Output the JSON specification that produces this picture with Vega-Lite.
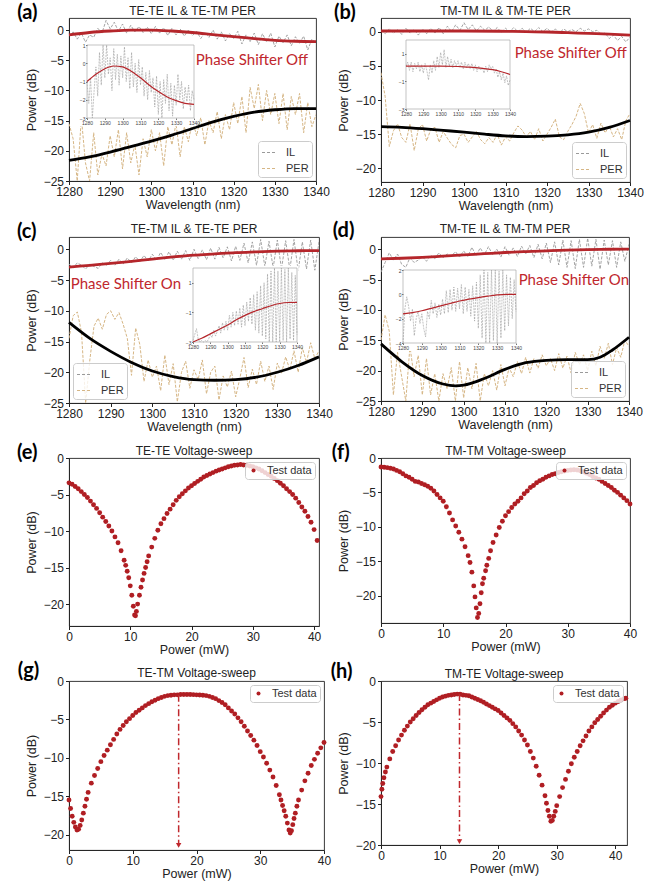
{
"$schema": "https://vega.github.io/schema/vega-lite/v6.json",
"background": "white",
"padding": {"left": 16, "top": 2, "right": 5, "bottom": 5},
"datasets": {
"aIL": [{"x":1280,"y":-1.0},{"x":1281,"y":-0.3},{"x":1282,"y":-1.5},{"x":1283,"y":-0.5},{"x":1284,"y":-2.0},{"x":1285,"y":-0.8},{"x":1286,"y":-1.2},{"x":1287,"y":0.3},{"x":1288,"y":-0.5},{"x":1289,"y":1.6},{"x":1290,"y":0.2},{"x":1291,"y":1.3},{"x":1292,"y":-0.2},{"x":1293,"y":1.0},{"x":1294,"y":-0.5},{"x":1295,"y":0.8},{"x":1296,"y":-0.3},{"x":1297,"y":0.6},{"x":1298,"y":-0.4},{"x":1299,"y":0.5},{"x":1300,"y":-0.6},{"x":1301,"y":0.6},{"x":1302,"y":-0.5},{"x":1303,"y":0.4},{"x":1304,"y":-0.9},{"x":1305,"y":0.3},{"x":1306,"y":-0.8},{"x":1307,"y":0.2},{"x":1308,"y":-1.0},{"x":1309,"y":0.0},{"x":1310,"y":-0.9},{"x":1311,"y":-0.2},{"x":1312,"y":-1.4},{"x":1313,"y":-0.4},{"x":1314,"y":-1.2},{"x":1315,"y":0.0},{"x":1316,"y":-1.5},{"x":1317,"y":-0.3},{"x":1318,"y":-1.8},{"x":1319,"y":-0.6},{"x":1320,"y":-1.4},{"x":1321,"y":-0.2},{"x":1322,"y":-2.3},{"x":1323,"y":-0.8},{"x":1324,"y":-1.9},{"x":1325,"y":-0.5},{"x":1326,"y":-2.4},{"x":1327,"y":-0.6},{"x":1328,"y":-2.0},{"x":1329,"y":-0.5},{"x":1330,"y":-2.8},{"x":1331,"y":-1.0},{"x":1332,"y":-2.1},{"x":1333,"y":-0.8},{"x":1334,"y":-2.6},{"x":1335,"y":-1.1},{"x":1336,"y":-2.2},{"x":1337,"y":-1.0},{"x":1338,"y":-3.3},{"x":1339,"y":-1.5},{"x":1340,"y":-2.2}],
"aPER": [{"x":1280,"y":-15.5},{"x":1281,"y":-18},{"x":1282,"y":-25},{"x":1283,"y":-14.5},{"x":1284,"y":-22},{"x":1285,"y":-25},{"x":1286,"y":-17},{"x":1287,"y":-24},{"x":1288,"y":-20.5},{"x":1289,"y":-22.5},{"x":1290,"y":-17.5},{"x":1291,"y":-21},{"x":1292,"y":-16.5},{"x":1293,"y":-23},{"x":1294,"y":-17},{"x":1295,"y":-22},{"x":1296,"y":-19},{"x":1297,"y":-24},{"x":1298,"y":-18},{"x":1299,"y":-21},{"x":1300,"y":-16.5},{"x":1301,"y":-20},{"x":1302,"y":-17},{"x":1303,"y":-22.5},{"x":1304,"y":-16},{"x":1305,"y":-19},{"x":1306,"y":-15.5},{"x":1307,"y":-21},{"x":1308,"y":-16},{"x":1309,"y":-18.5},{"x":1310,"y":-15},{"x":1311,"y":-17.5},{"x":1312,"y":-14.5},{"x":1313,"y":-19},{"x":1314,"y":-15},{"x":1315,"y":-17},{"x":1316,"y":-13.5},{"x":1317,"y":-18},{"x":1318,"y":-14},{"x":1319,"y":-16.5},{"x":1320,"y":-12},{"x":1321,"y":-15.5},{"x":1322,"y":-11},{"x":1323,"y":-17},{"x":1324,"y":-9.5},{"x":1325,"y":-13},{"x":1326,"y":-9},{"x":1327,"y":-15},{"x":1328,"y":-10},{"x":1329,"y":-14},{"x":1330,"y":-10.5},{"x":1331,"y":-15.5},{"x":1332,"y":-10.5},{"x":1333,"y":-16.5},{"x":1334,"y":-11},{"x":1335,"y":-14},{"x":1336,"y":-10.5},{"x":1337,"y":-17},{"x":1338,"y":-12},{"x":1339,"y":-16},{"x":1340,"y":-14}],
"aFR": [{"x":1280,"y":-0.8},{"x":1285,"y":-0.4},{"x":1290,"y":-0.15},{"x":1295,"y":0.0},{"x":1300,"y":0.0},{"x":1305,"y":-0.15},{"x":1310,"y":-0.4},{"x":1315,"y":-0.75},{"x":1320,"y":-1.1},{"x":1325,"y":-1.4},{"x":1330,"y":-1.7},{"x":1335,"y":-1.85},{"x":1340,"y":-1.9}],
"aFK": [{"x":1280,"y":-21.6},{"x":1285,"y":-21.0},{"x":1290,"y":-20.2},{"x":1295,"y":-19.3},{"x":1300,"y":-18.4},{"x":1305,"y":-17.4},{"x":1310,"y":-16.3},{"x":1315,"y":-15.2},{"x":1320,"y":-14.3},{"x":1325,"y":-13.6},{"x":1330,"y":-13.2},{"x":1335,"y":-13.0},{"x":1340,"y":-13.0}],
"aiIL": [{"x":1280,"y":-1.0},{"x":1281,"y":-2.2},{"x":1282,"y":-0.8},{"x":1283,"y":-3.0},{"x":1284,"y":-1.5},{"x":1285,"y":-0.2},{"x":1286,"y":-1.8},{"x":1287,"y":0.6},{"x":1288,"y":-1.2},{"x":1289,"y":1.0},{"x":1290,"y":-0.8},{"x":1291,"y":1.0},{"x":1292,"y":-0.6},{"x":1293,"y":0.3},{"x":1294,"y":-1.5},{"x":1295,"y":0.8},{"x":1296,"y":-0.9},{"x":1297,"y":0.5},{"x":1298,"y":-1.2},{"x":1299,"y":0.4},{"x":1300,"y":-0.8},{"x":1301,"y":0.9},{"x":1302,"y":-1.0},{"x":1303,"y":0.3},{"x":1304,"y":-1.4},{"x":1305,"y":0.6},{"x":1306,"y":-1.3},{"x":1307,"y":0.0},{"x":1308,"y":-1.6},{"x":1309,"y":0.2},{"x":1310,"y":-1.2},{"x":1311,"y":-0.2},{"x":1312,"y":-1.8},{"x":1313,"y":-0.5},{"x":1314,"y":-2.0},{"x":1315,"y":-0.4},{"x":1316,"y":-1.6},{"x":1317,"y":-0.8},{"x":1318,"y":-2.4},{"x":1319,"y":-0.7},{"x":1320,"y":-2.8},{"x":1321,"y":-1.0},{"x":1322,"y":-3.0},{"x":1323,"y":-0.9},{"x":1324,"y":-2.2},{"x":1325,"y":-0.6},{"x":1326,"y":-2.6},{"x":1327,"y":-1.1},{"x":1328,"y":-2.9},{"x":1329,"y":-1.2},{"x":1330,"y":-2.3},{"x":1331,"y":-0.6},{"x":1332,"y":-2.0},{"x":1333,"y":-1.0},{"x":1334,"y":-2.5},{"x":1335,"y":-1.3},{"x":1336,"y":-2.1},{"x":1337,"y":-1.2},{"x":1338,"y":-2.6},{"x":1339,"y":-1.5},{"x":1340,"y":-2.0}],
"aiR": [{"x":1280,"y":-1.0},{"x":1285,"y":-0.6},{"x":1290,"y":-0.3},{"x":1295,"y":-0.15},{"x":1300,"y":-0.2},{"x":1305,"y":-0.45},{"x":1310,"y":-0.8},{"x":1315,"y":-1.2},{"x":1320,"y":-1.55},{"x":1325,"y":-1.85},{"x":1330,"y":-2.05},{"x":1335,"y":-2.2},{"x":1340,"y":-2.25}],
"bIL": [{"x":1280,"y":0.2},{"x":1281,"y":-0.3},{"x":1282,"y":0.4},{"x":1283,"y":-0.2},{"x":1284,"y":0.3},{"x":1285,"y":-0.4},{"x":1286,"y":0.5},{"x":1287,"y":-0.2},{"x":1288,"y":0.3},{"x":1289,"y":-0.5},{"x":1290,"y":0.4},{"x":1291,"y":-0.3},{"x":1292,"y":0.5},{"x":1293,"y":-0.2},{"x":1294,"y":0.6},{"x":1295,"y":-0.3},{"x":1296,"y":0.8},{"x":1297,"y":0.0},{"x":1298,"y":1.0},{"x":1299,"y":0.2},{"x":1300,"y":1.3},{"x":1301,"y":0.3},{"x":1302,"y":1.0},{"x":1303,"y":0.1},{"x":1304,"y":0.8},{"x":1305,"y":0.2},{"x":1306,"y":0.7},{"x":1307,"y":0.0},{"x":1308,"y":0.6},{"x":1309,"y":-0.1},{"x":1310,"y":0.5},{"x":1311,"y":0.0},{"x":1312,"y":0.6},{"x":1313,"y":0.0},{"x":1314,"y":0.5},{"x":1315,"y":-0.1},{"x":1316,"y":0.5},{"x":1317,"y":0.0},{"x":1318,"y":0.6},{"x":1319,"y":0.0},{"x":1320,"y":0.5},{"x":1321,"y":-0.1},{"x":1322,"y":0.4},{"x":1323,"y":-0.2},{"x":1324,"y":0.4},{"x":1325,"y":0.0},{"x":1326,"y":0.3},{"x":1327,"y":0.0},{"x":1328,"y":0.5},{"x":1329,"y":0.1},{"x":1330,"y":0.4},{"x":1331,"y":0.0},{"x":1332,"y":0.2},{"x":1333,"y":-0.4},{"x":1334,"y":-0.2},{"x":1335,"y":-1.0},{"x":1336,"y":-0.5},{"x":1337,"y":-1.3},{"x":1338,"y":-0.7},{"x":1339,"y":-1.5},{"x":1340,"y":-0.8}],
"bPER": [{"x":1280,"y":-6.0},{"x":1281,"y":-9.5},{"x":1282,"y":-16.8},{"x":1283,"y":-14.5},{"x":1284,"y":-13.5},{"x":1285,"y":-15.5},{"x":1286,"y":-16.2},{"x":1287,"y":-13.5},{"x":1288,"y":-17.4},{"x":1289,"y":-14.2},{"x":1290,"y":-13.6},{"x":1291,"y":-16.0},{"x":1292,"y":-14.3},{"x":1293,"y":-14.0},{"x":1294,"y":-16.2},{"x":1295,"y":-14.6},{"x":1296,"y":-15.6},{"x":1297,"y":-16.5},{"x":1298,"y":-17.0},{"x":1299,"y":-15.2},{"x":1300,"y":-15.0},{"x":1301,"y":-16.2},{"x":1302,"y":-15.4},{"x":1303,"y":-14.6},{"x":1304,"y":-15.8},{"x":1305,"y":-16.4},{"x":1306,"y":-15.5},{"x":1307,"y":-16.2},{"x":1308,"y":-15.0},{"x":1309,"y":-16.6},{"x":1310,"y":-15.4},{"x":1311,"y":-16.0},{"x":1312,"y":-14.8},{"x":1313,"y":-13.8},{"x":1314,"y":-14.4},{"x":1315,"y":-15.4},{"x":1316,"y":-14.6},{"x":1317,"y":-15.8},{"x":1318,"y":-14.2},{"x":1319,"y":-16.0},{"x":1320,"y":-15.0},{"x":1321,"y":-14.0},{"x":1322,"y":-12.8},{"x":1323,"y":-15.4},{"x":1324,"y":-15.8},{"x":1325,"y":-14.6},{"x":1326,"y":-13.6},{"x":1327,"y":-12.4},{"x":1328,"y":-10.5},{"x":1329,"y":-12.0},{"x":1330,"y":-14.8},{"x":1331,"y":-13.6},{"x":1332,"y":-15.6},{"x":1333,"y":-13.4},{"x":1334,"y":-14.8},{"x":1335,"y":-13.8},{"x":1336,"y":-15.4},{"x":1337,"y":-14.2},{"x":1338,"y":-15.8},{"x":1339,"y":-13.0},{"x":1340,"y":-12.0}],
"bFR": [{"x":1280,"y":0.1},{"x":1290,"y":0.1},{"x":1300,"y":0.1},{"x":1310,"y":0.05},{"x":1315,"y":0.0},{"x":1320,"y":-0.05},{"x":1325,"y":-0.15},{"x":1330,"y":-0.25},{"x":1335,"y":-0.35},{"x":1340,"y":-0.5}],
"bFK": [{"x":1280,"y":-13.9},{"x":1285,"y":-14.0},{"x":1290,"y":-14.2},{"x":1295,"y":-14.45},{"x":1300,"y":-14.7},{"x":1305,"y":-15.0},{"x":1310,"y":-15.25},{"x":1315,"y":-15.35},{"x":1320,"y":-15.3},{"x":1325,"y":-15.1},{"x":1330,"y":-14.7},{"x":1335,"y":-14.0},{"x":1340,"y":-13.0}],
"biIL": [{"x":1280,"y":0.1},{"x":1281,"y":0.4},{"x":1282,"y":-0.2},{"x":1283,"y":0.4},{"x":1284,"y":-0.3},{"x":1285,"y":0.3},{"x":1286,"y":-0.1},{"x":1287,"y":0.4},{"x":1288,"y":-0.3},{"x":1289,"y":0.2},{"x":1290,"y":-0.4},{"x":1291,"y":0.3},{"x":1292,"y":-0.2},{"x":1293,"y":-0.9},{"x":1294,"y":0.2},{"x":1295,"y":-0.4},{"x":1296,"y":0.5},{"x":1297,"y":-0.2},{"x":1298,"y":0.8},{"x":1299,"y":0.0},{"x":1300,"y":1.1},{"x":1301,"y":0.2},{"x":1302,"y":1.3},{"x":1303,"y":0.0},{"x":1304,"y":0.8},{"x":1305,"y":0.1},{"x":1306,"y":0.6},{"x":1307,"y":0.0},{"x":1308,"y":0.5},{"x":1309,"y":0.1},{"x":1310,"y":0.5},{"x":1311,"y":0.0},{"x":1312,"y":0.4},{"x":1313,"y":-0.1},{"x":1314,"y":0.4},{"x":1315,"y":0.0},{"x":1316,"y":0.3},{"x":1317,"y":-0.1},{"x":1318,"y":0.3},{"x":1319,"y":-0.2},{"x":1320,"y":0.2},{"x":1321,"y":-0.3},{"x":1322,"y":0.1},{"x":1323,"y":-0.2},{"x":1324,"y":0.0},{"x":1325,"y":-0.4},{"x":1326,"y":0.1},{"x":1327,"y":-0.3},{"x":1328,"y":0.2},{"x":1329,"y":-0.1},{"x":1330,"y":0.1},{"x":1331,"y":-0.4},{"x":1332,"y":-0.1},{"x":1333,"y":-0.7},{"x":1334,"y":-0.3},{"x":1335,"y":-0.9},{"x":1336,"y":-0.4},{"x":1337,"y":-1.1},{"x":1338,"y":-0.6},{"x":1339,"y":-1.3},{"x":1340,"y":-0.9}],
"biR": [{"x":1280,"y":0.1},{"x":1290,"y":0.1},{"x":1300,"y":0.1},{"x":1310,"y":0.08},{"x":1315,"y":0.04},{"x":1320,"y":0.0},{"x":1325,"y":-0.07},{"x":1330,"y":-0.15},{"x":1335,"y":-0.3},{"x":1340,"y":-0.5}],
"cIL": [{"x":1280,"y":-2.4},{"x":1281,"y":-3.0},{"x":1282,"y":-2.2},{"x":1283,"y":-2.6},{"x":1284,"y":-3.2},{"x":1285,"y":-2.4},{"x":1286,"y":-2.8},{"x":1287,"y":-3.1},{"x":1288,"y":-2.2},{"x":1289,"y":-2.6},{"x":1290,"y":-1.8},{"x":1291,"y":-2.6},{"x":1292,"y":-1.6},{"x":1293,"y":-2.4},{"x":1294,"y":-1.4},{"x":1295,"y":-2.2},{"x":1296,"y":-1.2},{"x":1297,"y":-2.0},{"x":1298,"y":-1.0},{"x":1299,"y":-1.9},{"x":1300,"y":-0.8},{"x":1301,"y":-1.8},{"x":1302,"y":-0.5},{"x":1303,"y":-1.7},{"x":1304,"y":-0.4},{"x":1305,"y":-1.8},{"x":1306,"y":-0.3},{"x":1307,"y":-1.6},{"x":1308,"y":-0.2},{"x":1309,"y":-1.8},{"x":1310,"y":0.0},{"x":1311,"y":-1.5},{"x":1312,"y":-0.1},{"x":1313,"y":-1.7},{"x":1314,"y":0.2},{"x":1315,"y":-1.6},{"x":1316,"y":0.3},{"x":1317,"y":-1.4},{"x":1318,"y":0.4},{"x":1319,"y":-1.9},{"x":1320,"y":0.5},{"x":1321,"y":-1.8},{"x":1322,"y":1.0},{"x":1323,"y":-2.2},{"x":1324,"y":1.2},{"x":1325,"y":-2.6},{"x":1326,"y":1.6},{"x":1327,"y":-2.8},{"x":1328,"y":1.3},{"x":1329,"y":-3.0},{"x":1330,"y":1.5},{"x":1331,"y":-3.2},{"x":1332,"y":1.4},{"x":1333,"y":-3.3},{"x":1334,"y":1.6},{"x":1335,"y":-3.5},{"x":1336,"y":1.2},{"x":1337,"y":-3.2},{"x":1338,"y":1.5},{"x":1339,"y":-3.4},{"x":1340,"y":1.2}],
"cPER": [{"x":1280,"y":-14.5},{"x":1281,"y":-10.8},{"x":1282,"y":-10.2},{"x":1283,"y":-13.5},{"x":1284,"y":-25},{"x":1285,"y":-18},{"x":1286,"y":-12.5},{"x":1287,"y":-11.2},{"x":1288,"y":-13.0},{"x":1289,"y":-10.6},{"x":1290,"y":-10.0},{"x":1291,"y":-11.4},{"x":1292,"y":-10.3},{"x":1293,"y":-12.2},{"x":1294,"y":-14.5},{"x":1295,"y":-20.5},{"x":1296,"y":-12.8},{"x":1297,"y":-15.5},{"x":1298,"y":-21.5},{"x":1299,"y":-18.0},{"x":1300,"y":-20.8},{"x":1301,"y":-19.0},{"x":1302,"y":-23.0},{"x":1303,"y":-17.2},{"x":1304,"y":-22.0},{"x":1305,"y":-18.6},{"x":1306,"y":-24.8},{"x":1307,"y":-20.0},{"x":1308,"y":-18.2},{"x":1309,"y":-22.6},{"x":1310,"y":-19.6},{"x":1311,"y":-21.2},{"x":1312,"y":-18.0},{"x":1313,"y":-23.5},{"x":1314,"y":-20.0},{"x":1315,"y":-19.0},{"x":1316,"y":-24.5},{"x":1317,"y":-20.6},{"x":1318,"y":-22.4},{"x":1319,"y":-19.8},{"x":1320,"y":-24.0},{"x":1321,"y":-21.0},{"x":1322,"y":-17.6},{"x":1323,"y":-22.5},{"x":1324,"y":-19.5},{"x":1325,"y":-22.0},{"x":1326,"y":-18.2},{"x":1327,"y":-21.5},{"x":1328,"y":-19.0},{"x":1329,"y":-22.8},{"x":1330,"y":-18.5},{"x":1331,"y":-20.2},{"x":1332,"y":-17.5},{"x":1333,"y":-19.6},{"x":1334,"y":-16.5},{"x":1335,"y":-20.0},{"x":1336,"y":-16.0},{"x":1337,"y":-18.4},{"x":1338,"y":-15.2},{"x":1339,"y":-17.8},{"x":1340,"y":-16.5}],
"cFR": [{"x":1280,"y":-2.9},{"x":1285,"y":-2.6},{"x":1290,"y":-2.3},{"x":1295,"y":-1.95},{"x":1300,"y":-1.6},{"x":1305,"y":-1.25},{"x":1310,"y":-0.95},{"x":1315,"y":-0.75},{"x":1320,"y":-0.55},{"x":1325,"y":-0.42},{"x":1330,"y":-0.3},{"x":1335,"y":-0.24},{"x":1340,"y":-0.2}],
"cFK": [{"x":1280,"y":-11.9},{"x":1285,"y":-14.5},{"x":1290,"y":-16.6},{"x":1295,"y":-18.4},{"x":1300,"y":-19.8},{"x":1305,"y":-20.7},{"x":1310,"y":-21.2},{"x":1315,"y":-21.3},{"x":1320,"y":-21.2},{"x":1325,"y":-20.8},{"x":1330,"y":-20.0},{"x":1335,"y":-18.9},{"x":1340,"y":-17.5}],
"ciIL": [{"x":1280,"y":-2.9},{"x":1281,"y":-2.5},{"x":1282,"y":-2.1},{"x":1283,"y":-2.8},{"x":1284,"y":-3.0},{"x":1285,"y":-2.9},{"x":1286,"y":-3.0},{"x":1287,"y":-2.9},{"x":1288,"y":-3.0},{"x":1289,"y":-2.8},{"x":1290,"y":-2.5},{"x":1291,"y":-2.7},{"x":1292,"y":-2.2},{"x":1293,"y":-2.6},{"x":1294,"y":-2.3},{"x":1295,"y":-1.9},{"x":1296,"y":-2.4},{"x":1297,"y":-1.7},{"x":1298,"y":-2.2},{"x":1299,"y":-1.6},{"x":1300,"y":-2.2},{"x":1301,"y":-1.2},{"x":1302,"y":-2.0},{"x":1303,"y":-1.0},{"x":1304,"y":-1.9},{"x":1305,"y":-0.9},{"x":1306,"y":-1.8},{"x":1307,"y":-0.7},{"x":1308,"y":-2.0},{"x":1309,"y":-0.5},{"x":1310,"y":-1.9},{"x":1311,"y":-0.3},{"x":1312,"y":-1.6},{"x":1313,"y":0.0},{"x":1314,"y":-1.8},{"x":1315,"y":0.2},{"x":1316,"y":-2.2},{"x":1317,"y":0.4},{"x":1318,"y":-2.4},{"x":1319,"y":0.8},{"x":1320,"y":-2.6},{"x":1321,"y":1.0},{"x":1322,"y":-2.8},{"x":1323,"y":1.6},{"x":1324,"y":-3.0},{"x":1325,"y":1.8},{"x":1326,"y":-3.0},{"x":1327,"y":2.0},{"x":1328,"y":-3.0},{"x":1329,"y":1.8},{"x":1330,"y":-3.0},{"x":1331,"y":2.0},{"x":1332,"y":-2.9},{"x":1333,"y":1.9},{"x":1334,"y":-3.0},{"x":1335,"y":2.0},{"x":1336,"y":-2.8},{"x":1337,"y":1.7},{"x":1338,"y":-2.9},{"x":1339,"y":1.5},{"x":1340,"y":-2.5}],
"ciR": [{"x":1280,"y":-3.0},{"x":1285,"y":-2.75},{"x":1290,"y":-2.45},{"x":1295,"y":-2.15},{"x":1300,"y":-1.85},{"x":1305,"y":-1.5},{"x":1310,"y":-1.2},{"x":1315,"y":-0.95},{"x":1320,"y":-0.75},{"x":1325,"y":-0.55},{"x":1330,"y":-0.4},{"x":1335,"y":-0.33},{"x":1340,"y":-0.32}],
"dIL": [{"x":1280,"y":-3.8},{"x":1281,"y":-2.2},{"x":1282,"y":-0.6},{"x":1283,"y":-1.8},{"x":1284,"y":-0.8},{"x":1285,"y":-2.5},{"x":1286,"y":-3.0},{"x":1287,"y":-1.4},{"x":1288,"y":-2.2},{"x":1289,"y":-1.8},{"x":1290,"y":-1.2},{"x":1291,"y":-2.0},{"x":1292,"y":-1.0},{"x":1293,"y":-1.6},{"x":1294,"y":-0.6},{"x":1295,"y":-1.4},{"x":1296,"y":-0.8},{"x":1297,"y":-1.2},{"x":1298,"y":-0.4},{"x":1299,"y":-1.3},{"x":1300,"y":-0.3},{"x":1301,"y":-1.2},{"x":1302,"y":0.3},{"x":1303,"y":-1.1},{"x":1304,"y":0.2},{"x":1305,"y":-0.9},{"x":1306,"y":0.4},{"x":1307,"y":-0.9},{"x":1308,"y":0.0},{"x":1309,"y":-1.3},{"x":1310,"y":0.4},{"x":1311,"y":-1.0},{"x":1312,"y":0.2},{"x":1313,"y":-1.2},{"x":1314,"y":0.5},{"x":1315,"y":-0.8},{"x":1316,"y":0.6},{"x":1317,"y":-1.4},{"x":1318,"y":0.8},{"x":1319,"y":-1.6},{"x":1320,"y":1.0},{"x":1321,"y":-2.2},{"x":1322,"y":1.2},{"x":1323,"y":-2.6},{"x":1324,"y":1.5},{"x":1325,"y":-3.0},{"x":1326,"y":1.4},{"x":1327,"y":-3.2},{"x":1328,"y":1.6},{"x":1329,"y":-3.0},{"x":1330,"y":1.8},{"x":1331,"y":-2.8},{"x":1332,"y":1.6},{"x":1333,"y":-3.3},{"x":1334,"y":1.5},{"x":1335,"y":-2.6},{"x":1336,"y":1.4},{"x":1337,"y":-3.0},{"x":1338,"y":1.2},{"x":1339,"y":-2.0},{"x":1340,"y":0.8}],
"dPER": [{"x":1280,"y":-15.0},{"x":1281,"y":-10.8},{"x":1282,"y":-13.5},{"x":1283,"y":-24.0},{"x":1284,"y":-17.0},{"x":1285,"y":-21.0},{"x":1286,"y":-25.0},{"x":1287,"y":-16.0},{"x":1288,"y":-21.0},{"x":1289,"y":-17.5},{"x":1290,"y":-24.0},{"x":1291,"y":-18.0},{"x":1292,"y":-24.0},{"x":1293,"y":-20.5},{"x":1294,"y":-25.0},{"x":1295,"y":-20.5},{"x":1296,"y":-23.0},{"x":1297,"y":-19.5},{"x":1298,"y":-25.0},{"x":1299,"y":-18.5},{"x":1300,"y":-24.5},{"x":1301,"y":-19.5},{"x":1302,"y":-23.0},{"x":1303,"y":-18.8},{"x":1304,"y":-25.0},{"x":1305,"y":-20.5},{"x":1306,"y":-22.5},{"x":1307,"y":-20.0},{"x":1308,"y":-23.2},{"x":1309,"y":-19.0},{"x":1310,"y":-22.5},{"x":1311,"y":-19.5},{"x":1312,"y":-21.0},{"x":1313,"y":-18.5},{"x":1314,"y":-20.5},{"x":1315,"y":-17.8},{"x":1316,"y":-20.4},{"x":1317,"y":-18.0},{"x":1318,"y":-19.6},{"x":1319,"y":-17.4},{"x":1320,"y":-19.2},{"x":1321,"y":-18.0},{"x":1322,"y":-20.0},{"x":1323,"y":-17.2},{"x":1324,"y":-19.6},{"x":1325,"y":-17.6},{"x":1326,"y":-20.4},{"x":1327,"y":-17.0},{"x":1328,"y":-19.0},{"x":1329,"y":-17.4},{"x":1330,"y":-20.0},{"x":1331,"y":-16.8},{"x":1332,"y":-19.2},{"x":1333,"y":-16.0},{"x":1334,"y":-18.0},{"x":1335,"y":-15.5},{"x":1336,"y":-19.0},{"x":1337,"y":-16.2},{"x":1338,"y":-17.8},{"x":1339,"y":-15.0},{"x":1340,"y":-16.0}],
"dFR": [{"x":1280,"y":-1.6},{"x":1285,"y":-1.5},{"x":1290,"y":-1.35},{"x":1295,"y":-1.15},{"x":1300,"y":-0.95},{"x":1305,"y":-0.75},{"x":1310,"y":-0.55},{"x":1315,"y":-0.4},{"x":1320,"y":-0.27},{"x":1325,"y":-0.15},{"x":1330,"y":-0.07},{"x":1335,"y":-0.02},{"x":1340,"y":0.0}],
"dFK": [{"x":1280,"y":-15.6},{"x":1285,"y":-18.5},{"x":1290,"y":-20.8},{"x":1295,"y":-22.2},{"x":1298,"y":-22.5},{"x":1300,"y":-22.4},{"x":1305,"y":-21.3},{"x":1310,"y":-19.8},{"x":1315,"y":-18.7},{"x":1320,"y":-18.3},{"x":1325,"y":-18.2},{"x":1330,"y":-18.2},{"x":1333,"y":-17.8},{"x":1336,"y":-16.6},{"x":1340,"y":-14.5}],
"diIL": [{"x":1280,"y":-4.0},{"x":1281,"y":-1.2},{"x":1282,"y":-0.2},{"x":1283,"y":-1.0},{"x":1284,"y":-2.2},{"x":1285,"y":-1.2},{"x":1286,"y":-3.4},{"x":1287,"y":-2.0},{"x":1288,"y":-1.4},{"x":1289,"y":-2.4},{"x":1290,"y":-1.6},{"x":1291,"y":-2.8},{"x":1292,"y":-3.5},{"x":1293,"y":-1.4},{"x":1294,"y":-2.0},{"x":1295,"y":-0.5},{"x":1296,"y":-1.6},{"x":1297,"y":-0.7},{"x":1298,"y":-1.9},{"x":1299,"y":-0.8},{"x":1300,"y":-1.7},{"x":1301,"y":-0.4},{"x":1302,"y":-1.6},{"x":1303,"y":0.3},{"x":1304,"y":-1.5},{"x":1305,"y":0.4},{"x":1306,"y":-1.3},{"x":1307,"y":0.6},{"x":1308,"y":-1.4},{"x":1309,"y":0.5},{"x":1310,"y":-1.2},{"x":1311,"y":0.8},{"x":1312,"y":-1.6},{"x":1313,"y":0.6},{"x":1314,"y":-1.4},{"x":1315,"y":0.4},{"x":1316,"y":-1.8},{"x":1317,"y":0.7},{"x":1318,"y":-2.2},{"x":1319,"y":1.0},{"x":1320,"y":-2.8},{"x":1321,"y":1.6},{"x":1322,"y":-3.6},{"x":1323,"y":2.0},{"x":1324,"y":-4.0},{"x":1325,"y":1.8},{"x":1326,"y":-4.0},{"x":1327,"y":2.0},{"x":1328,"y":-3.8},{"x":1329,"y":2.0},{"x":1330,"y":-4.0},{"x":1331,"y":1.9},{"x":1332,"y":-3.6},{"x":1333,"y":2.0},{"x":1334,"y":-3.0},{"x":1335,"y":1.6},{"x":1336,"y":-2.6},{"x":1337,"y":1.4},{"x":1338,"y":-2.0},{"x":1339,"y":1.2},{"x":1340,"y":-1.4}],
"diR": [{"x":1280,"y":-1.6},{"x":1285,"y":-1.5},{"x":1290,"y":-1.35},{"x":1295,"y":-1.15},{"x":1300,"y":-0.95},{"x":1305,"y":-0.75},{"x":1310,"y":-0.55},{"x":1315,"y":-0.4},{"x":1320,"y":-0.27},{"x":1325,"y":-0.15},{"x":1330,"y":-0.05},{"x":1335,"y":0.0},{"x":1340,"y":0.0}],
"e": [{"x":0,"y":-3.4},{"x":0.5,"y":-3.6},{"x":1,"y":-3.9},{"x":1.5,"y":-4.2},{"x":2,"y":-4.6},{"x":2.5,"y":-5.0},{"x":3,"y":-5.4},{"x":3.5,"y":-5.9},{"x":4,"y":-6.4},{"x":4.5,"y":-6.9},{"x":5,"y":-7.5},{"x":5.5,"y":-8.1},{"x":6,"y":-8.7},{"x":6.5,"y":-9.3},{"x":7,"y":-10.0},{"x":7.5,"y":-10.8},{"x":8,"y":-11.6},{"x":8.5,"y":-12.7},{"x":9,"y":-14.0},{"x":9.25,"y":-14.7},{"x":9.5,"y":-15.5},{"x":9.75,"y":-16.4},{"x":10,"y":-17.5},{"x":10.25,"y":-18.8},{"x":10.5,"y":-20.3},{"x":10.7,"y":-21.5},{"x":10.85,"y":-21.6},{"x":11,"y":-21.0},{"x":11.2,"y":-20.0},{"x":11.5,"y":-18.8},{"x":11.75,"y":-17.7},{"x":12,"y":-16.7},{"x":12.25,"y":-15.8},{"x":12.5,"y":-15.0},{"x":12.75,"y":-14.2},{"x":13,"y":-13.4},{"x":13.5,"y":-12.2},{"x":14,"y":-11.0},{"x":14.5,"y":-9.9},{"x":15,"y":-9.0},{"x":15.5,"y":-8.3},{"x":16,"y":-7.6},{"x":16.5,"y":-7.0},{"x":17,"y":-6.4},{"x":17.5,"y":-5.8},{"x":18,"y":-5.3},{"x":18.5,"y":-4.9},{"x":19,"y":-4.5},{"x":19.5,"y":-4.1},{"x":20,"y":-3.8},{"x":20.5,"y":-3.5},{"x":21,"y":-3.2},{"x":21.5,"y":-2.9},{"x":22,"y":-2.6},{"x":22.5,"y":-2.4},{"x":23,"y":-2.2},{"x":23.5,"y":-2.0},{"x":24,"y":-1.8},{"x":24.5,"y":-1.65},{"x":25,"y":-1.5},{"x":25.5,"y":-1.35},{"x":26,"y":-1.2},{"x":26.5,"y":-1.1},{"x":27,"y":-1.0},{"x":27.5,"y":-0.95},{"x":28,"y":-0.9},{"x":28.5,"y":-0.95},{"x":29,"y":-1.0},{"x":29.5,"y":-1.1},{"x":30,"y":-1.2},{"x":30.5,"y":-1.35},{"x":31,"y":-1.5},{"x":31.5,"y":-1.75},{"x":32,"y":-2.0},{"x":32.5,"y":-2.25},{"x":33,"y":-2.5},{"x":33.5,"y":-2.8},{"x":34,"y":-3.1},{"x":34.5,"y":-3.45},{"x":35,"y":-3.8},{"x":35.5,"y":-4.2},{"x":36,"y":-4.6},{"x":36.5,"y":-5.0},{"x":37,"y":-5.5},{"x":37.5,"y":-6.1},{"x":38,"y":-6.7},{"x":38.5,"y":-7.3},{"x":39,"y":-8.0},{"x":39.5,"y":-8.8},{"x":40,"y":-9.8},{"x":40.5,"y":-11.3}],
"f": [{"x":0,"y":-1.3},{"x":0.5,"y":-1.35},{"x":1,"y":-1.4},{"x":1.5,"y":-1.5},{"x":2,"y":-1.6},{"x":2.5,"y":-1.8},{"x":3,"y":-2.0},{"x":3.5,"y":-2.3},{"x":4,"y":-2.6},{"x":4.5,"y":-2.8},{"x":5,"y":-3.1},{"x":5.5,"y":-3.4},{"x":6,"y":-3.5},{"x":6.5,"y":-3.7},{"x":7,"y":-3.9},{"x":7.5,"y":-4.1},{"x":8,"y":-4.4},{"x":8.5,"y":-4.8},{"x":9,"y":-5.3},{"x":9.5,"y":-5.8},{"x":10,"y":-6.3},{"x":10.5,"y":-7.1},{"x":11,"y":-8.0},{"x":11.5,"y":-9.0},{"x":12,"y":-9.9},{"x":12.5,"y":-10.8},{"x":13,"y":-11.8},{"x":13.5,"y":-12.9},{"x":14,"y":-14.2},{"x":14.3,"y":-15.2},{"x":14.6,"y":-16.6},{"x":14.9,"y":-18.6},{"x":15.1,"y":-20.2},{"x":15.3,"y":-21.8},{"x":15.5,"y":-23.2},{"x":15.7,"y":-22.6},{"x":15.9,"y":-21.2},{"x":16.1,"y":-19.6},{"x":16.3,"y":-18.3},{"x":16.5,"y":-17.5},{"x":16.8,"y":-16.4},{"x":17,"y":-15.6},{"x":17.3,"y":-14.6},{"x":17.6,"y":-13.5},{"x":18,"y":-12.3},{"x":18.5,"y":-11.2},{"x":19,"y":-10.1},{"x":19.5,"y":-9.2},{"x":20,"y":-8.4},{"x":20.5,"y":-7.8},{"x":21,"y":-7.2},{"x":21.5,"y":-6.7},{"x":22,"y":-6.3},{"x":22.5,"y":-5.8},{"x":23,"y":-5.2},{"x":23.5,"y":-4.8},{"x":24,"y":-4.3},{"x":24.5,"y":-4.0},{"x":25,"y":-3.6},{"x":25.5,"y":-3.3},{"x":26,"y":-3.1},{"x":26.5,"y":-2.8},{"x":27,"y":-2.6},{"x":27.5,"y":-2.4},{"x":28,"y":-2.3},{"x":28.5,"y":-2.1},{"x":29,"y":-2.0},{"x":29.5,"y":-1.9},{"x":30,"y":-1.8},{"x":30.5,"y":-1.75},{"x":31,"y":-1.7},{"x":31.5,"y":-1.75},{"x":32,"y":-1.85},{"x":32.5,"y":-2.0},{"x":33,"y":-2.2},{"x":33.5,"y":-2.4},{"x":34,"y":-2.7},{"x":34.5,"y":-2.9},{"x":35,"y":-3.1},{"x":35.5,"y":-3.4},{"x":36,"y":-3.7},{"x":36.5,"y":-4.0},{"x":37,"y":-4.3},{"x":37.5,"y":-4.7},{"x":38,"y":-5.0},{"x":38.5,"y":-5.4},{"x":39,"y":-5.8},{"x":39.5,"y":-6.2},{"x":40,"y":-6.7}],
"g": [{"x":0,"y":-15.5},{"x":0.25,"y":-16.6},{"x":0.5,"y":-17.6},{"x":0.75,"y":-18.4},{"x":1,"y":-19.0},{"x":1.25,"y":-19.4},{"x":1.5,"y":-19.3},{"x":1.75,"y":-18.8},{"x":2,"y":-18.1},{"x":2.25,"y":-17.2},{"x":2.5,"y":-16.3},{"x":2.75,"y":-15.4},{"x":3,"y":-14.5},{"x":3.5,"y":-13.3},{"x":4,"y":-12.3},{"x":4.5,"y":-11.4},{"x":5,"y":-10.5},{"x":5.5,"y":-9.7},{"x":6,"y":-9.0},{"x":6.5,"y":-8.3},{"x":7,"y":-7.6},{"x":7.5,"y":-6.9},{"x":8,"y":-6.3},{"x":8.5,"y":-5.8},{"x":9,"y":-5.3},{"x":9.5,"y":-4.9},{"x":10,"y":-4.5},{"x":10.5,"y":-4.1},{"x":11,"y":-3.8},{"x":11.5,"y":-3.5},{"x":12,"y":-3.2},{"x":12.5,"y":-2.95},{"x":13,"y":-2.7},{"x":13.5,"y":-2.5},{"x":14,"y":-2.3},{"x":14.5,"y":-2.15},{"x":15,"y":-2.0},{"x":15.5,"y":-1.9},{"x":16,"y":-1.85},{"x":16.5,"y":-1.8},{"x":17,"y":-1.8},{"x":17.5,"y":-1.75},{"x":18,"y":-1.75},{"x":18.5,"y":-1.75},{"x":19,"y":-1.75},{"x":19.5,"y":-1.78},{"x":20,"y":-1.8},{"x":20.5,"y":-1.82},{"x":21,"y":-1.85},{"x":21.5,"y":-1.9},{"x":22,"y":-2.0},{"x":22.5,"y":-2.15},{"x":23,"y":-2.3},{"x":23.5,"y":-2.55},{"x":24,"y":-2.8},{"x":24.5,"y":-3.1},{"x":25,"y":-3.5},{"x":25.5,"y":-3.9},{"x":26,"y":-4.3},{"x":26.5,"y":-4.8},{"x":27,"y":-5.3},{"x":27.5,"y":-5.9},{"x":28,"y":-6.5},{"x":28.5,"y":-7.1},{"x":29,"y":-7.7},{"x":29.5,"y":-8.4},{"x":30,"y":-9.2},{"x":30.5,"y":-9.9},{"x":31,"y":-10.7},{"x":31.5,"y":-11.6},{"x":32,"y":-12.5},{"x":32.5,"y":-13.6},{"x":33,"y":-14.8},{"x":33.25,"y":-15.5},{"x":33.5,"y":-16.2},{"x":33.75,"y":-16.9},{"x":34,"y":-17.6},{"x":34.25,"y":-18.5},{"x":34.5,"y":-19.4},{"x":34.7,"y":-19.8},{"x":34.9,"y":-19.5},{"x":35.1,"y":-18.7},{"x":35.3,"y":-17.9},{"x":35.5,"y":-17.2},{"x":35.75,"y":-16.3},{"x":36,"y":-15.5},{"x":36.5,"y":-14.2},{"x":37,"y":-13.0},{"x":37.5,"y":-12.0},{"x":38,"y":-11.0},{"x":38.5,"y":-10.2},{"x":39,"y":-9.4},{"x":39.5,"y":-8.7},{"x":40,"y":-8.0}],
"h": [{"x":0,"y":-14.1},{"x":0.15,"y":-13.2},{"x":0.3,"y":-12.5},{"x":0.5,"y":-11.8},{"x":0.75,"y":-11.1},{"x":1,"y":-10.5},{"x":1.5,"y":-9.5},{"x":2,"y":-8.6},{"x":2.5,"y":-7.9},{"x":3,"y":-7.2},{"x":3.5,"y":-6.6},{"x":4,"y":-6.0},{"x":4.5,"y":-5.5},{"x":5,"y":-5.0},{"x":5.5,"y":-4.6},{"x":6,"y":-4.2},{"x":6.5,"y":-3.85},{"x":7,"y":-3.5},{"x":7.5,"y":-3.2},{"x":8,"y":-2.9},{"x":8.5,"y":-2.7},{"x":9,"y":-2.5},{"x":9.5,"y":-2.3},{"x":10,"y":-2.1},{"x":10.5,"y":-1.95},{"x":11,"y":-1.85},{"x":11.5,"y":-1.75},{"x":12,"y":-1.7},{"x":12.5,"y":-1.65},{"x":13,"y":-1.6},{"x":13.5,"y":-1.62},{"x":14,"y":-1.7},{"x":14.5,"y":-1.75},{"x":15,"y":-1.8},{"x":15.5,"y":-1.95},{"x":16,"y":-2.1},{"x":16.5,"y":-2.25},{"x":17,"y":-2.4},{"x":17.5,"y":-2.6},{"x":18,"y":-2.8},{"x":18.5,"y":-3.0},{"x":19,"y":-3.2},{"x":19.5,"y":-3.4},{"x":20,"y":-3.6},{"x":20.5,"y":-3.9},{"x":21,"y":-4.2},{"x":21.5,"y":-4.5},{"x":22,"y":-4.8},{"x":22.5,"y":-5.2},{"x":23,"y":-5.6},{"x":23.5,"y":-6.1},{"x":24,"y":-6.6},{"x":24.5,"y":-7.2},{"x":25,"y":-7.8},{"x":25.5,"y":-8.6},{"x":26,"y":-9.4},{"x":26.5,"y":-10.4},{"x":27,"y":-11.5},{"x":27.5,"y":-12.7},{"x":28,"y":-14.0},{"x":28.25,"y":-14.9},{"x":28.5,"y":-15.8},{"x":28.75,"y":-16.5},{"x":29,"y":-17.1},{"x":29.25,"y":-17.0},{"x":29.5,"y":-16.5},{"x":29.75,"y":-15.9},{"x":30,"y":-15.2},{"x":30.5,"y":-14.1},{"x":31,"y":-13.0},{"x":31.5,"y":-12.0},{"x":32,"y":-11.0},{"x":32.5,"y":-10.1},{"x":33,"y":-9.3},{"x":33.5,"y":-8.6},{"x":34,"y":-7.9},{"x":34.5,"y":-7.3},{"x":35,"y":-6.7},{"x":35.5,"y":-6.1},{"x":36,"y":-5.6},{"x":36.5,"y":-5.1},{"x":37,"y":-4.7},{"x":37.5,"y":-4.3},{"x":38,"y":-3.9},{"x":38.5,"y":-3.55},{"x":39,"y":-3.2},{"x":39.5,"y":-2.95},{"x":40,"y":-2.7},{"x":40.5,"y":-2.5},{"x":41,"y":-2.3},{"x":41.5,"y":-2.15},{"x":41.8,"y":-2.1}]
},
"concat": [
{"width": 247, "height": 163, "title": {"text": "TE-TE IL & TE-TM PER", "frame": "group", "offset": -15},
 "layer": [
  {"layer": [
   {"data": {"name": "aIL"}, "mark": {"type": "line", "strokeWidth": 0.9, "strokeDash": [3, 1.5], "clip": true},
    "encoding": {"x": {"field": "x", "type": "quantitative", "scale": {"domain": [1280, 1340], "nice": false, "zero": false}, "axis": {"values": [1280,1290,1300,1310,1320,1330,1340], "labelFlush": false, "labelOverlap": false, "title": "Wavelength (nm)"}},
     "y": {"field": "y", "type": "quantitative", "scale": {"domain": [-25, 2], "nice": false, "zero": false}, "axis": {"values": [0,-5,-10,-15,-20,-25], "labelOverlap": false, "title": "Power (dB)"}},
     "color": {"datum": "IL", "scale": {"domain": ["IL", "PER"], "range": ["#9a9a9a", "#d6b685"]}, "legend": {"orient": "bottom-right", "title": null, "symbolType": "stroke", "symbolSize": 225, "symbolStrokeWidth": 1.2, "symbolDash": [3, 2]}}}},
   {"data": {"name": "aPER"}, "mark": {"type": "line", "strokeWidth": 1, "strokeDash": [3, 1.5], "clip": true},
    "encoding": {"x": {"field": "x", "type": "quantitative", "axis": {"values": [1280,1290,1300,1310,1320,1330,1340], "labelFlush": false, "labelOverlap": false, "title": "Wavelength (nm)"}}, "y": {"field": "y", "type": "quantitative", "axis": {"values": [0,-5,-10,-15,-20,-25], "labelOverlap": false, "title": "Power (dB)"}}, "color": {"datum": "PER"}}},
   {"data": {"name": "aFR"}, "mark": {"type": "line", "color": "#b5262b", "strokeWidth": 2.8, "interpolate": "monotone"},
    "encoding": {"x": {"field": "x", "type": "quantitative", "axis": {"values": [1280,1290,1300,1310,1320,1330,1340], "labelFlush": false, "labelOverlap": false, "title": "Wavelength (nm)"}}, "y": {"field": "y", "type": "quantitative", "axis": {"values": [0,-5,-10,-15,-20,-25], "labelOverlap": false, "title": "Power (dB)"}}}},
   {"data": {"name": "aFK"}, "mark": {"type": "line", "color": "#000000", "strokeWidth": 2.8, "interpolate": "monotone"},
    "encoding": {"x": {"field": "x", "type": "quantitative", "axis": {"values": [1280,1290,1300,1310,1320,1330,1340], "labelFlush": false, "labelOverlap": false, "title": "Wavelength (nm)"}}, "y": {"field": "y", "type": "quantitative", "axis": {"values": [0,-5,-10,-15,-20,-25], "labelOverlap": false, "title": "Power (dB)"}}}},
   {"data": {"values": [{}]}, "mark": {"type": "text", "text": "Phase Shifter Off", "font": "Lato", "fontSize": 15, "color": "#c0272d", "align": "left", "baseline": "middle"},
    "encoding": {"x": {"datum": 1310.8, "type": "quantitative", "axis": {"values": [1280,1290,1300,1310,1320,1330,1340], "labelFlush": false, "labelOverlap": false, "title": "Wavelength (nm)"}}, "y": {"datum": -5, "type": "quantitative", "axis": {"values": [0,-5,-10,-15,-20,-25], "labelOverlap": false, "title": "Power (dB)"}}}},
   {"data": {"values": [{}]}, "mark": {"type": "text", "text": "(a)", "font": "Lato", "fontWeight": "bold", "fontSize": 20, "color": "#000000", "align": "left", "baseline": "middle"},
    "encoding": {"x": {"datum": 1267.4, "type": "quantitative", "axis": {"values": [1280,1290,1300,1310,1320,1330,1340], "labelFlush": false, "labelOverlap": false, "title": "Wavelength (nm)"}}, "y": {"datum": 2.83, "type": "quantitative", "axis": {"values": [0,-5,-10,-15,-20,-25], "labelOverlap": false, "title": "Power (dB)"}}}}
  ]},
  {"layer": [
   {"data": {"values": [{}]}, "mark": {"type": "rect", "fill": "white"},
    "encoding": {"x": {"datum": 1274.4, "type": "quantitative", "scale": {"domain": [1280, 1340], "range": [18, 125], "nice": false, "zero": false}, "axis": {"orient": "bottom", "offset": -63, "values": [1280,1290,1300,1310,1320,1330,1340], "labelFontSize": 5, "tickSize": 1.5, "labelPadding": 0.5, "domain": false, "title": null, "labelFlush": false, "labelOverlap": false, "zindex": 2, "labelColor": "#444", "tickColor": "#777"}},
     "x2": {"datum": 1341},
     "y": {"datum": 1.1, "type": "quantitative", "scale": {"domain": [-3, 1], "range": [100, 27], "nice": false, "zero": false}, "axis": {"orient": "left", "offset": -18, "values": [-3,-2,-1,0,1], "labelFontSize": 5, "tickSize": 1.5, "labelPadding": 0.5, "domain": false, "title": null, "labelOverlap": false, "zindex": 2, "labelColor": "#444", "tickColor": "#777"}},
     "y2": {"datum": -3.45}}},
   {"data": {"values": [{}]}, "mark": {"type": "rect", "fill": "white", "stroke": "#aaaaaa", "strokeWidth": 0.7},
    "encoding": {"x": {"datum": 1280, "type": "quantitative"}, "x2": {"datum": 1340}, "y": {"datum": 1, "type": "quantitative"}, "y2": {"datum": -3}}},
   {"data": {"name": "aiIL"}, "mark": {"type": "line", "color": "#9a9a9a", "strokeWidth": 0.6, "strokeDash": [2, 1]},
    "encoding": {"x": {"field": "x", "type": "quantitative"}, "y": {"field": "y", "type": "quantitative"}}},
   {"data": {"name": "aiR"}, "mark": {"type": "line", "color": "#b5262b", "strokeWidth": 1.2, "interpolate": "monotone"},
    "encoding": {"x": {"field": "x", "type": "quantitative"}, "y": {"field": "y", "type": "quantitative"}}}
  ]}
 ],
 "resolve": {"scale": {"x": "independent", "y": "independent"}}
},
{"width": 249, "height": 164, "title": {"text": "TM-TM IL & TM-TE PER", "frame": "group", "offset": -15},
 "layer": [
  {"layer": [
   {"data": {"name": "bIL"}, "mark": {"type": "line", "strokeWidth": 0.9, "strokeDash": [3, 1.5], "clip": true},
    "encoding": {"x": {"field": "x", "type": "quantitative", "scale": {"domain": [1280, 1340], "nice": false, "zero": false}, "axis": {"values": [1280,1290,1300,1310,1320,1330,1340], "labelFlush": false, "labelOverlap": false, "title": "Wavelength (nm)"}},
     "y": {"field": "y", "type": "quantitative", "scale": {"domain": [-22, 2], "nice": false, "zero": false}, "axis": {"values": [0,-5,-10,-15,-20], "labelOverlap": false, "title": "Power (dB)"}},
     "color": {"datum": "IL", "scale": {"domain": ["IL", "PER"], "range": ["#9a9a9a", "#d6b685"]}, "legend": {"orient": "bottom-right", "title": null, "symbolType": "stroke", "symbolSize": 225, "symbolStrokeWidth": 1.2, "symbolDash": [3, 2]}}}},
   {"data": {"name": "bPER"}, "mark": {"type": "line", "strokeWidth": 1, "strokeDash": [3, 1.5], "clip": true},
    "encoding": {"x": {"field": "x", "type": "quantitative", "axis": {"values": [1280,1290,1300,1310,1320,1330,1340], "labelFlush": false, "labelOverlap": false, "title": "Wavelength (nm)"}}, "y": {"field": "y", "type": "quantitative", "axis": {"values": [0,-5,-10,-15,-20], "labelOverlap": false, "title": "Power (dB)"}}, "color": {"datum": "PER"}}},
   {"data": {"name": "bFR"}, "mark": {"type": "line", "color": "#b5262b", "strokeWidth": 2.8, "interpolate": "monotone"},
    "encoding": {"x": {"field": "x", "type": "quantitative", "axis": {"values": [1280,1290,1300,1310,1320,1330,1340], "labelFlush": false, "labelOverlap": false, "title": "Wavelength (nm)"}}, "y": {"field": "y", "type": "quantitative", "axis": {"values": [0,-5,-10,-15,-20], "labelOverlap": false, "title": "Power (dB)"}}}},
   {"data": {"name": "bFK"}, "mark": {"type": "line", "color": "#000000", "strokeWidth": 2.8, "interpolate": "monotone"},
    "encoding": {"x": {"field": "x", "type": "quantitative", "axis": {"values": [1280,1290,1300,1310,1320,1330,1340], "labelFlush": false, "labelOverlap": false, "title": "Wavelength (nm)"}}, "y": {"field": "y", "type": "quantitative", "axis": {"values": [0,-5,-10,-15,-20], "labelOverlap": false, "title": "Power (dB)"}}}},
   {"data": {"values": [{}]}, "mark": {"type": "text", "text": "Phase Shifter Off", "font": "Lato", "fontSize": 15, "color": "#c0272d", "align": "left", "baseline": "middle"},
    "encoding": {"x": {"datum": 1312.2, "type": "quantitative", "axis": {"values": [1280,1290,1300,1310,1320,1330,1340], "labelFlush": false, "labelOverlap": false, "title": "Wavelength (nm)"}}, "y": {"datum": -3.1, "type": "quantitative", "axis": {"values": [0,-5,-10,-15,-20], "labelOverlap": false, "title": "Power (dB)"}}}},
   {"data": {"values": [{}]}, "mark": {"type": "text", "text": "(b)", "font": "Lato", "fontWeight": "bold", "fontSize": 20, "color": "#000000", "align": "left", "baseline": "middle"},
    "encoding": {"x": {"datum": 1268.7, "type": "quantitative", "axis": {"values": [1280,1290,1300,1310,1320,1330,1340], "labelFlush": false, "labelOverlap": false, "title": "Wavelength (nm)"}}, "y": {"datum": 2.73, "type": "quantitative", "axis": {"values": [0,-5,-10,-15,-20], "labelOverlap": false, "title": "Power (dB)"}}}}
  ]},
  {"layer": [
   {"data": {"values": [{}]}, "mark": {"type": "rect", "fill": "white"},
    "encoding": {"x": {"datum": 1274.2, "type": "quantitative", "scale": {"domain": [1280, 1340], "range": [25, 129], "nice": false, "zero": false}, "axis": {"orient": "bottom", "offset": -73, "values": [1280,1290,1300,1310,1320,1330,1340], "labelFontSize": 5, "tickSize": 1.5, "labelPadding": 0.5, "domain": false, "title": null, "labelFlush": false, "labelOverlap": false, "zindex": 2, "labelColor": "#444", "tickColor": "#777"}},
     "x2": {"datum": 1341},
     "y": {"datum": 2.15, "type": "quantitative", "scale": {"domain": [-3, 2], "range": [91, 22], "nice": false, "zero": false}, "axis": {"orient": "left", "offset": -25, "values": [-3,-2,-1,0,1,2], "labelFontSize": 5, "tickSize": 1.5, "labelPadding": 0.5, "domain": false, "title": null, "labelOverlap": false, "zindex": 2, "labelColor": "#444", "tickColor": "#777"}},
     "y2": {"datum": -3.6}}},
   {"data": {"values": [{}]}, "mark": {"type": "rect", "fill": "white", "stroke": "#aaaaaa", "strokeWidth": 0.7},
    "encoding": {"x": {"datum": 1280, "type": "quantitative"}, "x2": {"datum": 1340}, "y": {"datum": 2, "type": "quantitative"}, "y2": {"datum": -3}}},
   {"data": {"name": "biIL"}, "mark": {"type": "line", "color": "#9a9a9a", "strokeWidth": 0.6, "strokeDash": [2, 1]},
    "encoding": {"x": {"field": "x", "type": "quantitative"}, "y": {"field": "y", "type": "quantitative"}}},
   {"data": {"name": "biR"}, "mark": {"type": "line", "color": "#b5262b", "strokeWidth": 1.2, "interpolate": "monotone"},
    "encoding": {"x": {"field": "x", "type": "quantitative"}, "y": {"field": "y", "type": "quantitative"}}}
  ]}
 ],
 "resolve": {"scale": {"x": "independent", "y": "independent"}}
},
{"width": 250, "height": 166, "title": {"text": "TE-TM IL & TE-TE PER", "frame": "group", "offset": -14},
 "layer": [
  {"layer": [
   {"data": {"name": "cIL"}, "mark": {"type": "line", "strokeWidth": 0.9, "strokeDash": [3, 1.5], "clip": true},
    "encoding": {"x": {"field": "x", "type": "quantitative", "scale": {"domain": [1280, 1340], "nice": false, "zero": false}, "axis": {"values": [1280,1290,1300,1310,1320,1330,1340], "labelFlush": false, "labelOverlap": false, "title": "Wavelength (nm)"}},
     "y": {"field": "y", "type": "quantitative", "scale": {"domain": [-25, 2], "nice": false, "zero": false}, "axis": {"values": [0,-5,-10,-15,-20,-25], "labelOverlap": false, "title": "Power (dB)"}},
     "color": {"datum": "IL", "scale": {"domain": ["IL", "PER"], "range": ["#9a9a9a", "#d6b685"]}, "legend": {"orient": "bottom-left", "title": null, "symbolType": "stroke", "symbolSize": 225, "symbolStrokeWidth": 1.2, "symbolDash": [3, 2]}}}},
   {"data": {"name": "cPER"}, "mark": {"type": "line", "strokeWidth": 1, "strokeDash": [3, 1.5], "clip": true},
    "encoding": {"x": {"field": "x", "type": "quantitative", "axis": {"values": [1280,1290,1300,1310,1320,1330,1340], "labelFlush": false, "labelOverlap": false, "title": "Wavelength (nm)"}}, "y": {"field": "y", "type": "quantitative", "axis": {"values": [0,-5,-10,-15,-20,-25], "labelOverlap": false, "title": "Power (dB)"}}, "color": {"datum": "PER"}}},
   {"data": {"name": "cFR"}, "mark": {"type": "line", "color": "#b5262b", "strokeWidth": 2.8, "interpolate": "monotone"},
    "encoding": {"x": {"field": "x", "type": "quantitative", "axis": {"values": [1280,1290,1300,1310,1320,1330,1340], "labelFlush": false, "labelOverlap": false, "title": "Wavelength (nm)"}}, "y": {"field": "y", "type": "quantitative", "axis": {"values": [0,-5,-10,-15,-20,-25], "labelOverlap": false, "title": "Power (dB)"}}}},
   {"data": {"name": "cFK"}, "mark": {"type": "line", "color": "#000000", "strokeWidth": 2.8, "interpolate": "monotone"},
    "encoding": {"x": {"field": "x", "type": "quantitative", "axis": {"values": [1280,1290,1300,1310,1320,1330,1340], "labelFlush": false, "labelOverlap": false, "title": "Wavelength (nm)"}}, "y": {"field": "y", "type": "quantitative", "axis": {"values": [0,-5,-10,-15,-20,-25], "labelOverlap": false, "title": "Power (dB)"}}}},
   {"data": {"values": [{}]}, "mark": {"type": "text", "text": "Phase Shifter On", "font": "Lato", "fontSize": 15, "color": "#c0272d", "align": "left", "baseline": "middle"},
    "encoding": {"x": {"datum": 1280.4, "type": "quantitative", "axis": {"values": [1280,1290,1300,1310,1320,1330,1340], "labelFlush": false, "labelOverlap": false, "title": "Wavelength (nm)"}}, "y": {"datum": -5.65, "type": "quantitative", "axis": {"values": [0,-5,-10,-15,-20,-25], "labelOverlap": false, "title": "Power (dB)"}}}},
   {"data": {"values": [{}]}, "mark": {"type": "text", "text": "(c)", "font": "Lato", "fontWeight": "bold", "fontSize": 20, "color": "#000000", "align": "left", "baseline": "middle"},
    "encoding": {"x": {"datum": 1267.5, "type": "quantitative", "axis": {"values": [1280,1290,1300,1310,1320,1330,1340], "labelFlush": false, "labelOverlap": false, "title": "Wavelength (nm)"}}, "y": {"datum": 2.86, "type": "quantitative", "axis": {"values": [0,-5,-10,-15,-20,-25], "labelOverlap": false, "title": "Power (dB)"}}}}
  ]},
  {"layer": [
   {"data": {"values": [{}]}, "mark": {"type": "rect", "fill": "white"},
    "encoding": {"x": {"datum": 1274.2, "type": "quantitative", "scale": {"domain": [1280, 1340], "range": [124, 228], "nice": false, "zero": false}, "axis": {"orient": "bottom", "offset": -61, "values": [1280,1290,1300,1310,1320,1330,1340], "labelFontSize": 5, "tickSize": 1.5, "labelPadding": 0.5, "domain": false, "title": null, "labelFlush": false, "labelOverlap": false, "zindex": 2, "labelColor": "#444", "tickColor": "#777"}},
     "x2": {"datum": 1341},
     "y": {"datum": 2.15, "type": "quantitative", "scale": {"domain": [-3, 2], "range": [105, 31], "nice": false, "zero": false}, "axis": {"orient": "left", "offset": -124, "values": [-3,-2,-1,0,1,2], "labelFontSize": 5, "tickSize": 1.5, "labelPadding": 0.5, "domain": false, "title": null, "labelOverlap": false, "zindex": 2, "labelColor": "#444", "tickColor": "#777"}},
     "y2": {"datum": -3.55}}},
   {"data": {"values": [{}]}, "mark": {"type": "rect", "fill": "white", "stroke": "#aaaaaa", "strokeWidth": 0.7},
    "encoding": {"x": {"datum": 1280, "type": "quantitative"}, "x2": {"datum": 1340}, "y": {"datum": 2, "type": "quantitative"}, "y2": {"datum": -3}}},
   {"data": {"name": "ciIL"}, "mark": {"type": "line", "color": "#9a9a9a", "strokeWidth": 0.6, "strokeDash": [2, 1]},
    "encoding": {"x": {"field": "x", "type": "quantitative"}, "y": {"field": "y", "type": "quantitative"}}},
   {"data": {"name": "ciR"}, "mark": {"type": "line", "color": "#b5262b", "strokeWidth": 1.2, "interpolate": "monotone"},
    "encoding": {"x": {"field": "x", "type": "quantitative"}, "y": {"field": "y", "type": "quantitative"}}}
  ]}
 ],
 "resolve": {"scale": {"x": "independent", "y": "independent"}}
},
{"width": 248, "height": 164, "title": {"text": "TM-TE IL & TM-TM PER", "frame": "group", "offset": -15},
 "layer": [
  {"layer": [
   {"data": {"name": "dIL"}, "mark": {"type": "line", "strokeWidth": 0.9, "strokeDash": [3, 1.5], "clip": true},
    "encoding": {"x": {"field": "x", "type": "quantitative", "scale": {"domain": [1280, 1340], "nice": false, "zero": false}, "axis": {"values": [1280,1290,1300,1310,1320,1330,1340], "labelFlush": false, "labelOverlap": false, "title": "Wavelength (nm)"}},
     "y": {"field": "y", "type": "quantitative", "scale": {"domain": [-25, 2], "nice": false, "zero": false}, "axis": {"values": [0,-5,-10,-15,-20,-25], "labelOverlap": false, "title": "Power (dB)"}},
     "color": {"datum": "IL", "scale": {"domain": ["IL", "PER"], "range": ["#9a9a9a", "#d6b685"]}, "legend": {"orient": "bottom-right", "title": null, "symbolType": "stroke", "symbolSize": 225, "symbolStrokeWidth": 1.2, "symbolDash": [3, 2]}}}},
   {"data": {"name": "dPER"}, "mark": {"type": "line", "strokeWidth": 1, "strokeDash": [3, 1.5], "clip": true},
    "encoding": {"x": {"field": "x", "type": "quantitative", "axis": {"values": [1280,1290,1300,1310,1320,1330,1340], "labelFlush": false, "labelOverlap": false, "title": "Wavelength (nm)"}}, "y": {"field": "y", "type": "quantitative", "axis": {"values": [0,-5,-10,-15,-20,-25], "labelOverlap": false, "title": "Power (dB)"}}, "color": {"datum": "PER"}}},
   {"data": {"name": "dFR"}, "mark": {"type": "line", "color": "#b5262b", "strokeWidth": 2.8, "interpolate": "monotone"},
    "encoding": {"x": {"field": "x", "type": "quantitative", "axis": {"values": [1280,1290,1300,1310,1320,1330,1340], "labelFlush": false, "labelOverlap": false, "title": "Wavelength (nm)"}}, "y": {"field": "y", "type": "quantitative", "axis": {"values": [0,-5,-10,-15,-20,-25], "labelOverlap": false, "title": "Power (dB)"}}}},
   {"data": {"name": "dFK"}, "mark": {"type": "line", "color": "#000000", "strokeWidth": 2.8, "interpolate": "monotone"},
    "encoding": {"x": {"field": "x", "type": "quantitative", "axis": {"values": [1280,1290,1300,1310,1320,1330,1340], "labelFlush": false, "labelOverlap": false, "title": "Wavelength (nm)"}}, "y": {"field": "y", "type": "quantitative", "axis": {"values": [0,-5,-10,-15,-20,-25], "labelOverlap": false, "title": "Power (dB)"}}}},
   {"data": {"values": [{}]}, "mark": {"type": "text", "text": "Phase Shifter On", "font": "Lato", "fontSize": 15, "color": "#c0272d", "align": "left", "baseline": "middle"},
    "encoding": {"x": {"datum": 1313.3, "type": "quantitative", "axis": {"values": [1280,1290,1300,1310,1320,1330,1340], "labelFlush": false, "labelOverlap": false, "title": "Wavelength (nm)"}}, "y": {"datum": -5.04, "type": "quantitative", "axis": {"values": [0,-5,-10,-15,-20,-25], "labelOverlap": false, "title": "Power (dB)"}}}},
   {"data": {"values": [{}]}, "mark": {"type": "text", "text": "(d)", "font": "Lato", "fontWeight": "bold", "fontSize": 20, "color": "#000000", "align": "left", "baseline": "middle"},
    "encoding": {"x": {"datum": 1268.3, "type": "quantitative", "axis": {"values": [1280,1290,1300,1310,1320,1330,1340], "labelFlush": false, "labelOverlap": false, "title": "Wavelength (nm)"}}, "y": {"datum": 2.94, "type": "quantitative", "axis": {"values": [0,-5,-10,-15,-20,-25], "labelOverlap": false, "title": "Power (dB)"}}}}
  ]},
  {"layer": [
   {"data": {"values": [{}]}, "mark": {"type": "rect", "fill": "white"},
    "encoding": {"x": {"datum": 1274.7, "type": "quantitative", "scale": {"domain": [1280, 1340], "range": [22, 135], "nice": false, "zero": false}, "axis": {"orient": "bottom", "offset": -58, "values": [1280,1290,1300,1310,1320,1330,1340], "labelFontSize": 5, "tickSize": 1.5, "labelPadding": 0.5, "domain": false, "title": null, "labelFlush": false, "labelOverlap": false, "zindex": 2, "labelColor": "#444", "tickColor": "#777"}},
     "x2": {"datum": 1341},
     "y": {"datum": 2.15, "type": "quantitative", "scale": {"domain": [-4, 2], "range": [106, 33], "nice": false, "zero": false}, "axis": {"orient": "left", "offset": -22, "values": [-4,-3,-2,-1,0,1,2], "labelFontSize": 5, "tickSize": 1.5, "labelPadding": 0.5, "domain": false, "title": null, "labelOverlap": false, "zindex": 2, "labelColor": "#444", "tickColor": "#777"}},
     "y2": {"datum": -4.65}}},
   {"data": {"values": [{}]}, "mark": {"type": "rect", "fill": "white", "stroke": "#aaaaaa", "strokeWidth": 0.7},
    "encoding": {"x": {"datum": 1280, "type": "quantitative"}, "x2": {"datum": 1340}, "y": {"datum": 2, "type": "quantitative"}, "y2": {"datum": -4}}},
   {"data": {"name": "diIL"}, "mark": {"type": "line", "color": "#9a9a9a", "strokeWidth": 0.6, "strokeDash": [2, 1]},
    "encoding": {"x": {"field": "x", "type": "quantitative"}, "y": {"field": "y", "type": "quantitative"}}},
   {"data": {"name": "diR"}, "mark": {"type": "line", "color": "#b5262b", "strokeWidth": 1.2, "interpolate": "monotone"},
    "encoding": {"x": {"field": "x", "type": "quantitative"}, "y": {"field": "y", "type": "quantitative"}}}
  ]}
 ],
 "resolve": {"scale": {"x": "independent", "y": "independent"}}
},
{"width": 250, "height": 168, "title": {"text": "TE-TE Voltage-sweep", "frame": "group", "offset": -15},
 "layer": [
  {"data": {"name": "e"}, "mark": {"type": "point", "filled": true, "size": 24, "opacity": 1},
   "encoding": {"x": {"field": "x", "type": "quantitative", "scale": {"domain": [0, 40.8], "nice": false, "zero": false}, "axis": {"values": [0,10,20,30,40], "labelFlush": false, "title": "Power (mW)"}},
    "y": {"field": "y", "type": "quantitative", "scale": {"domain": [-23, 0], "nice": false, "zero": false}, "axis": {"values": [0,-5,-10,-15,-20], "labelOverlap": false, "title": "Power (dB)"}},
    "color": {"datum": "Test data", "scale": {"domain": ["Test data"], "range": ["#b01e23"]}, "legend": {"orient": "top-right", "title": null, "symbolType": "circle", "symbolSize": 16}}}},
  {"data": {"values": [{}]}, "mark": {"type": "text", "text": "(e)", "font": "Lato", "fontWeight": "bold", "fontSize": 20, "color": "#000000", "align": "left", "baseline": "middle"},
   "encoding": {"x": {"datum": -8.5, "type": "quantitative"}, "y": {"datum": 0.68, "type": "quantitative"}}}
 ]},
{"width": 249, "height": 165, "title": {"text": "TM-TM Voltage-sweep", "frame": "group", "offset": -15},
 "layer": [
  {"data": {"name": "f"}, "mark": {"type": "point", "filled": true, "size": 24, "opacity": 1},
   "encoding": {"x": {"field": "x", "type": "quantitative", "scale": {"domain": [0, 40], "nice": false, "zero": false}, "axis": {"values": [0,10,20,30,40], "labelFlush": false, "title": "Power (mW)"}},
    "y": {"field": "y", "type": "quantitative", "scale": {"domain": [-24, 0], "nice": false, "zero": false}, "axis": {"values": [0,-5,-10,-15,-20], "labelOverlap": false, "title": "Power (dB)"}},
    "color": {"datum": "Test data", "scale": {"domain": ["Test data"], "range": ["#b01e23"]}, "legend": {"orient": "top-right", "title": null, "symbolType": "circle", "symbolSize": 16}}}},
  {"data": {"values": [{}]}, "mark": {"type": "text", "text": "(f)", "font": "Lato", "fontWeight": "bold", "fontSize": 20, "color": "#000000", "align": "left", "baseline": "middle"},
   "encoding": {"x": {"datum": -7.9, "type": "quantitative"}, "y": {"datum": 0.77, "type": "quantitative"}}}
 ]},
{"width": 255, "height": 169, "title": {"text": "TE-TM Voltage-sweep", "frame": "group", "offset": -19},
 "layer": [
  {"data": {"name": "g"}, "mark": {"type": "point", "filled": true, "size": 24, "opacity": 1},
   "encoding": {"x": {"field": "x", "type": "quantitative", "scale": {"domain": [0, 40], "nice": false, "zero": false}, "axis": {"values": [0,10,20,30,40], "labelFlush": false, "title": "Power (mW)"}},
    "y": {"field": "y", "type": "quantitative", "scale": {"domain": [-22, 0], "nice": false, "zero": false}, "axis": {"values": [0,-5,-10,-15,-20], "labelOverlap": false, "title": "Power (dB)"}},
    "color": {"datum": "Test data", "scale": {"domain": ["Test data"], "range": ["#b01e23"]}, "legend": {"orient": "top-right", "title": null, "symbolType": "circle", "symbolSize": 16}}}},
  {"data": {"values": [{}]}, "mark": {"type": "rule", "color": "#c0282d", "strokeWidth": 1.5, "strokeDash": [7, 3, 1.5, 3]},
   "encoding": {"x": {"datum": 17.2, "type": "quantitative"}, "y": {"datum": -1.8, "type": "quantitative"}, "y2": {"datum": -21.2}}},
  {"data": {"values": [{}]}, "mark": {"type": "point", "shape": "triangle-down", "filled": true, "size": 30, "color": "#c0282d", "opacity": 1},
   "encoding": {"x": {"datum": 17.2, "type": "quantitative"}, "y": {"datum": -21.4, "type": "quantitative"}}},
  {"data": {"values": [{}]}, "mark": {"type": "text", "text": "(g)", "font": "Lato", "fontWeight": "bold", "fontSize": 20, "color": "#000000", "align": "left", "baseline": "middle"},
   "encoding": {"x": {"datum": -8.05, "type": "quantitative"}, "y": {"datum": 1.26, "type": "quantitative"}}}
 ]},
{"width": 246, "height": 164, "title": {"text": "TM-TE Voltage-sweep", "frame": "group", "offset": -19},
 "layer": [
  {"data": {"name": "h"}, "mark": {"type": "point", "filled": true, "size": 24, "opacity": 1},
   "encoding": {"x": {"field": "x", "type": "quantitative", "scale": {"domain": [0, 42], "nice": false, "zero": false}, "axis": {"values": [0,10,20,30,40], "labelFlush": false, "title": "Power (mW)"}},
    "y": {"field": "y", "type": "quantitative", "scale": {"domain": [-20, 0], "nice": false, "zero": false}, "axis": {"values": [0,-5,-10,-15,-20], "labelOverlap": false, "title": "Power (dB)"}},
    "color": {"datum": "Test data", "scale": {"domain": ["Test data"], "range": ["#b01e23"]}, "legend": {"orient": "top-right", "title": null, "symbolType": "circle", "symbolSize": 16}}}},
  {"data": {"values": [{}]}, "mark": {"type": "rule", "color": "#c0282d", "strokeWidth": 1.5, "strokeDash": [7, 3, 1.5, 3]},
   "encoding": {"x": {"datum": 13.4, "type": "quantitative"}, "y": {"datum": -1.6, "type": "quantitative"}, "y2": {"datum": -19.4}}},
  {"data": {"values": [{}]}, "mark": {"type": "point", "shape": "triangle-down", "filled": true, "size": 30, "color": "#c0282d", "opacity": 1},
   "encoding": {"x": {"datum": 13.4, "type": "quantitative"}, "y": {"datum": -19.6, "type": "quantitative"}}},
  {"data": {"values": [{}]}, "mark": {"type": "text", "text": "(h)", "font": "Lato", "fontWeight": "bold", "fontSize": 20, "color": "#000000", "align": "left", "baseline": "middle"},
   "encoding": {"x": {"datum": -8.6, "type": "quantitative"}, "y": {"datum": 1.1, "type": "quantitative"}}}
 ]}
],
"columns": 2,
"spacing": {"row": 55, "column": 57},
"bounds": "flush",
"resolve": {"scale": {"color": "independent"}},
"config": {
 "font": "Liberation Sans",
 "view": {"stroke": "#222222", "strokeWidth": 0.9},
 "axis": {"grid": false, "domainColor": "#222222", "domainWidth": 0.9, "tickColor": "#222222", "tickSize": 3.5, "labelFont": "Liberation Sans", "labelFontSize": 12, "labelColor": "#222222", "labelPadding": 2, "labelOverlap": false, "labelExpr": "replace(replace(datum.label, ',', ''), '-', '\u2212')", "titleFont": "Liberation Sans", "titleFontSize": 12.5, "titleFontWeight": "normal", "titleColor": "#222222", "titlePadding": 5},
 "axisX": {"titlePadding": 1},
 "axisY": {"labelOverlap": false},
 "axisQuantitative": {"labelOverlap": false},
 "title": {"font": "Liberation Sans", "fontSize": 12, "fontWeight": "normal", "color": "#222222"},
 "legend": {"labelFont": "Liberation Sans", "labelFontSize": 11, "labelColor": "#333333", "strokeColor": "#cccccc", "fillColor": "rgba(255,255,255,0.8)", "cornerRadius": 3, "padding": 3, "offset": 4, "rowPadding": 2, "labelOffset": 8}
}
}
